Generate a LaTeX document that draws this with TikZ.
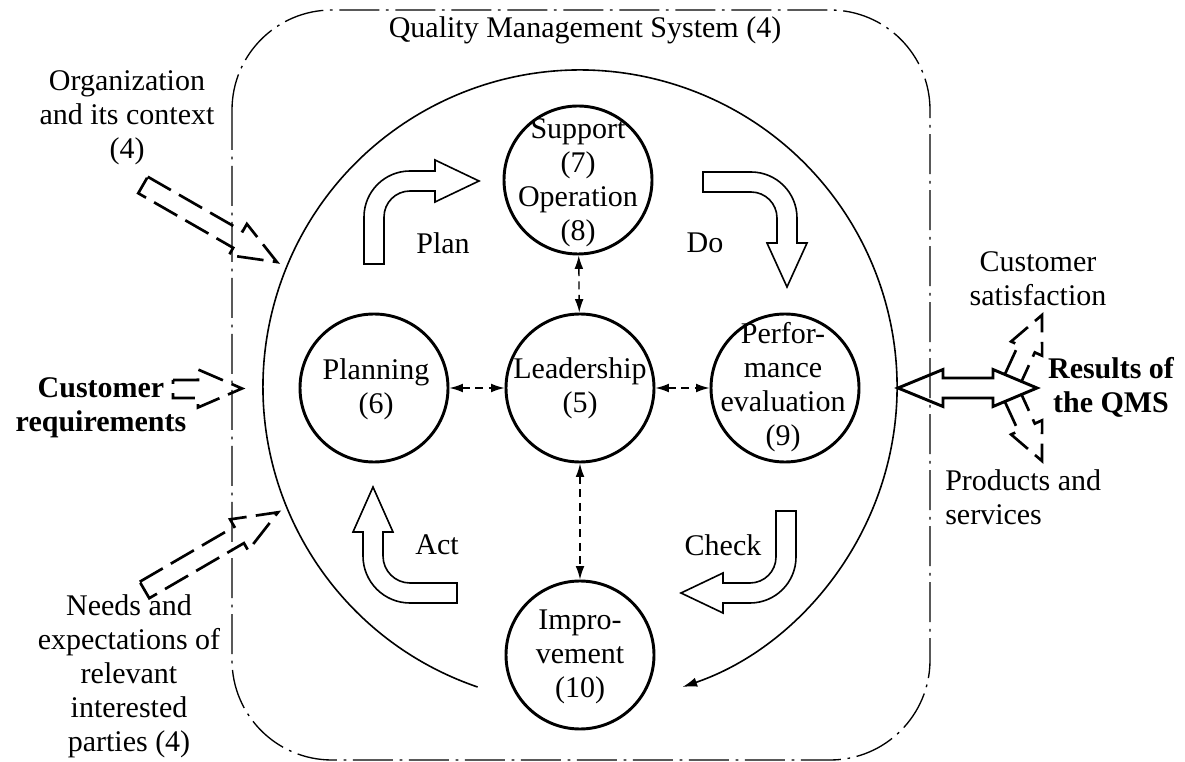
\documentclass[tikz,border=0pt]{standalone}
\usepackage{fontspec}
\setmainfont{Liberation Serif}
\usetikzlibrary{arrows.meta}
\begin{document}
\begin{tikzpicture}[x=0.75pt,y=-0.75pt,
  every node/.style={inner sep=0pt},
  txt/.style={font=\fontsize{22.5}{25.5}\selectfont, align=center},
  btxt/.style={font=\fontsize{22.5}{25.5}\selectfont\bfseries, align=center},
  circ/.style={draw, circle, line width=2.2pt, minimum size=111pt},
  conn/.style={line width=1pt, dash pattern=on 6pt off 4pt, {Latex[length=10pt,width=6.5pt]}-{Latex[length=10pt,width=6.5pt]}},
  block/.style={line width=1.2pt, line join=miter},
  hollow/.style={line width=2pt, dash pattern=on 20pt off 7pt, line join=miter},
  qms/.style={line width=1pt, dash pattern=on 30pt off 5pt on 2pt off 5pt},
]
\useasboundingbox (0,0) rectangle (1185,762);

% system boundary
\draw[qms, rounded corners=75pt] (232,10) rectangle (930,760);
\node[txt] (qmsT) at (585,30) {Quality Management System (4)};

% big cycle arc
\coordinate (arcS) at (477.6,687);
\draw[line width=1.2pt, -{Latex[length=11pt,width=7pt]}] (arcS) arc[start angle=251.15, end angle=-71.15, radius=237.75pt];

% circles
\node[circ] (sup)  at (578,180) {};
\node[circ] (plan) at (374,388) {};
\node[circ] (lead) at (580,388) {};
\node[circ] (perf) at (785,388) {};
\node[circ] (impr) at (580,655) {};
\node[txt] (supT)  at (578,183) {Support\\(7)\\Operation\\(8)};
\node[txt] (planT) at (376,389) {Planning\\(6)};
\node[txt] (leadT) at (580,388) {Leadership\\(5)};
\node[txt] (perfT) at (783,387) {Perfor-\\mance\\evaluation\\(9)};
\node[txt] (imprT) at (580,657) {Impro-\\vement\\(10)};

\draw[conn] (sup) -- (lead);
\draw[conn] (plan) -- (lead);
\draw[conn] (lead) -- (perf);
\draw[conn] (lead) -- (impr);

% PDCA block arrows
\draw[block] (364,264) -- (364,217) arc[start angle=180, end angle=90, radius=34.5pt]
  -- (435,171) -- (435,160) -- (479,181) -- (435,202) -- (435,191) -- (410,191)
  arc[start angle=90, end angle=180, radius=19.5pt] -- (384,264) -- cycle;
\draw[block] (703,172) -- (751,172) arc[start angle=90, end angle=0, radius=34.5pt]
  -- (797,243) -- (807,243) -- (787,287) -- (767,243) -- (777,243) -- (777,218)
  arc[start angle=0, end angle=90, radius=19.5pt] -- (703,192) -- cycle;
\draw[block] (776,511) -- (796,511) -- (796,557) arc[start angle=0, end angle=-90, radius=34.5pt]
  -- (723,603) -- (723,613) -- (681,593) -- (723,573) -- (723,583) -- (750,583)
  arc[start angle=-90, end angle=0, radius=19.5pt] -- cycle;
\draw[block] (457,583) -- (457,603) -- (410,603) arc[start angle=-90, end angle=-180, radius=35.25pt]
  -- (363,532) -- (353,532) -- (373,487) -- (393,532) -- (383,532) -- (383,556)
  arc[start angle=180, end angle=270, radius=20.25pt] -- cycle;
\node[txt] (planL)  at (443,243) {Plan};
\node[txt] (doL)    at (705,243) {Do};
\node[txt] (checkL) at (723,545) {Check};
\node[txt] (actL)   at (437,545) {Act};

% inputs
\node[txt] (orgT) at (127,118) {Organization\\and its context\\(4)};
\draw[hollow, shift={(143,185)}, rotate=-29.9] (0,-9.5) -- (109.5,-9.5) -- (109.5,-18) -- (154.5,0) -- (109.5,18) -- (109.5,9.5) -- (0,9.5) -- cycle;
\node[btxt] (custT) at (101,408) {Customer\\requirements};
\draw[hollow] (173,380) -- (198,380) -- (198,369.5) -- (242,388.5) -- (198,407.5) -- (198,398) -- (173,398) -- cycle;
\node[txt] (needT) at (129,676) {Needs and\\expectations of\\relevant\\interested\\parties (4)};
\draw[hollow, shift={(144.5,590)}, rotate=30.2] (0,-9.5) -- (109.5,-9.5) -- (109.5,-18) -- (154.5,0) -- (109.5,18) -- (109.5,9.5) -- (0,9.5) -- cycle;

% outputs
\draw[line width=2.2pt, line join=miter] (898,388) -- (943,369.5) -- (943,378) -- (993,378) -- (993,369.5) -- (1037,388)
  -- (993,406.5) -- (993,398) -- (943,398) -- (943,406.5) -- cycle;
\draw[hollow] (1004.8,374.4) -- (1018.4,344.9) -- (1011.1,341.5) -- (1042,315) -- (1042.1,355.7) -- (1034.8,352.4) -- (1021.5,381.5);
\draw[hollow] (1004.8,401.6) -- (1018.4,431.1) -- (1011.1,434.5) -- (1042,461) -- (1042.1,420.3) -- (1034.8,423.6) -- (1021.5,394.5);
\node[txt] (satT) at (1038,279) {Customer\\satisfaction};
\node[btxt] (resT) at (1111,387) {Results of\\the QMS};
\node[txt, align=left, anchor=west] (prodT) at (945,497) {Products and\\services};
\end{tikzpicture}
\end{document}
